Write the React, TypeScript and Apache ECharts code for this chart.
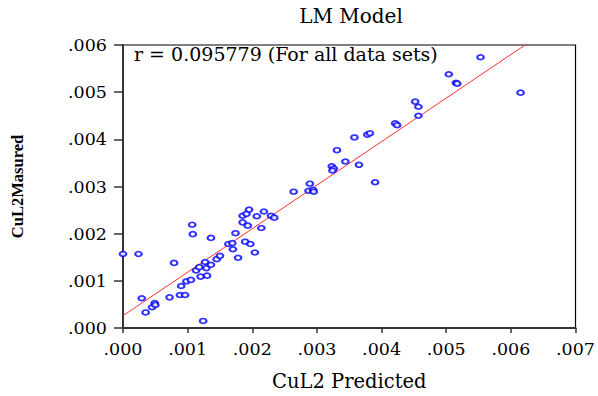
import React, { useEffect, useRef } from "react";
import * as echarts from "echarts";

const xPredicted = [
  0.0, 0.00024, 0.00029, 0.00035, 0.00045, 0.00049, 0.0005, 0.00072, 0.00079, 0.00088,
  0.0009, 0.00096, 0.00098, 0.00105, 0.00107, 0.00108, 0.00113, 0.00118, 0.0012, 0.00124,
  0.00127, 0.00129, 0.0013, 0.00136, 0.00136, 0.00145, 0.0015, 0.00163, 0.00169, 0.0017,
  0.00174, 0.00178, 0.00185, 0.00185, 0.00189, 0.00191, 0.00193, 0.00195, 0.00197, 0.00204,
  0.00207, 0.00214, 0.00218, 0.00229, 0.00234, 0.00264, 0.00289, 0.00287, 0.00294, 0.00295,
  0.00323, 0.00326, 0.00324, 0.00331, 0.00344, 0.00365, 0.00358, 0.00378, 0.00382, 0.0039,
  0.00421, 0.00424, 0.00452, 0.00457, 0.00457, 0.00504, 0.00515, 0.00517, 0.00553, 0.00615,
];
const yMeasured = [
  0.00157, 0.00157, 0.00063, 0.00033, 0.00044, 0.00053, 0.00049, 0.00065, 0.00138, 0.0007,
  0.00089, 0.0007, 0.00099, 0.00102, 0.00219, 0.00199, 0.00122, 0.00129, 0.00109, 0.00015,
  0.0014, 0.00127, 0.00111, 0.00191, 0.00134, 0.00146, 0.00153, 0.00178, 0.0018, 0.00167,
  0.00201, 0.00149, 0.00238, 0.00224, 0.00183, 0.00242, 0.00217, 0.00251, 0.00178, 0.0016,
  0.00237, 0.00212, 0.00247, 0.00238, 0.00234, 0.00289, 0.00306, 0.00291, 0.00293, 0.00289,
  0.00343, 0.00338, 0.00334, 0.00377, 0.00353, 0.00346, 0.00404, 0.0041, 0.00413, 0.00309,
  0.00434, 0.0043, 0.0048, 0.00469, 0.0045, 0.00538, 0.0052, 0.00518, 0.00574, 0.00499,
];
const fitLineX = [0.0, 0.007];
const fitLineY = [0.00026, 0.00672];

const titleText = "LM Model";
const corrText = "r = 0.095779 (For all data sets)";
const xName = "CuL2 Predicted";
const yName = "CuL2Masured";

const fmt = (v: number) => v.toFixed(3).replace(/^0/, "");

export default function App() {
  const ref = useRef<HTMLDivElement>(null);
  useEffect(() => {
    if (!ref.current) return;
    const chart = echarts.init(ref.current, null, { renderer: "svg" });
    const serif = "DejaVu Serif";
    chart.setOption({
      animation: false,
      backgroundColor: "#fff",
      grid: {
        left: 123,
        right: 20,
        top: 45,
        bottom: 68,
        show: true,
        borderColor: "#000",
        borderWidth: 1.2,
        containLabel: false,
      },
      graphic: [
        {
          type: "text",
          x: 351,
          y: 16,
          style: {
            text: titleText,
            fontFamily: serif,
            fontSize: 20,
            fill: "#000",
            align: "center",
            verticalAlign: "middle",
          },
        },
        {
          type: "text",
          x: 134,
          y: 54,
          z: 10,
          style: {
            text: corrText,
            fontFamily: serif,
            fontSize: 19,
            fill: "#000",
            align: "left",
            verticalAlign: "middle",
          },
        },
      ],
      xAxis: {
        type: "value",
        min: 0,
        max: 0.007,
        interval: 0.001,
        name: xName,
        nameLocation: "middle",
        nameGap: 43,
        nameTextStyle: { fontFamily: serif, fontSize: 19.5, color: "#000" },
        axisLine: { show: true, lineStyle: { color: "#333", width: 2 } },
        axisTick: { show: true, inside: false, length: 5, lineStyle: { color: "#333", width: 1.5 } },
        axisLabel: {
          formatter: fmt,
          fontFamily: serif,
          fontSize: 17.5,
          color: "#000",
          margin: 12,
        },
        splitLine: { show: false },
      },
      yAxis: {
        type: "value",
        min: 0,
        max: 0.006,
        interval: 0.001,
        name: yName,
        nameLocation: "middle",
        nameRotate: 90,
        nameGap: 97,
        nameTextStyle: {
          fontFamily: "Liberation Serif",
          fontWeight: "bold",
          fontSize: 16.5,
          color: "#000",
        },
        axisLine: { show: true, lineStyle: { color: "#333", width: 2 } },
        axisTick: { show: true, inside: false, length: 9, lineStyle: { color: "#333", width: 1.5 } },
        axisLabel: {
          formatter: fmt,
          fontFamily: serif,
          fontSize: 17.5,
          color: "#000",
          margin: 16,
        },
        splitLine: { show: false },
      },
      series: [
        {
          type: "line",
          data: fitLineX.map((x, i) => [x, fitLineY[i]]),
          symbol: "none",
          clip: true,
          lineStyle: { color: "#ff3030", width: 1 },
          z: 2,
        },
        {
          type: "scatter",
          data: xPredicted.map((x, i) => [x, yMeasured[i]]),
          symbol: "emptyCircle",
          symbolSize: [6.5, 4.8],
          itemStyle: { color: "#0000ff", borderColor: "#0000ff", borderWidth: 1.3 },
          z: 3,
        },
      ],
    });
    return () => chart.dispose();
  }, []);
  return (
    <div
      ref={ref}
      style={{ position: "fixed", left: 0, top: 0, width: 598, height: 396 }}
    />
  );
}
